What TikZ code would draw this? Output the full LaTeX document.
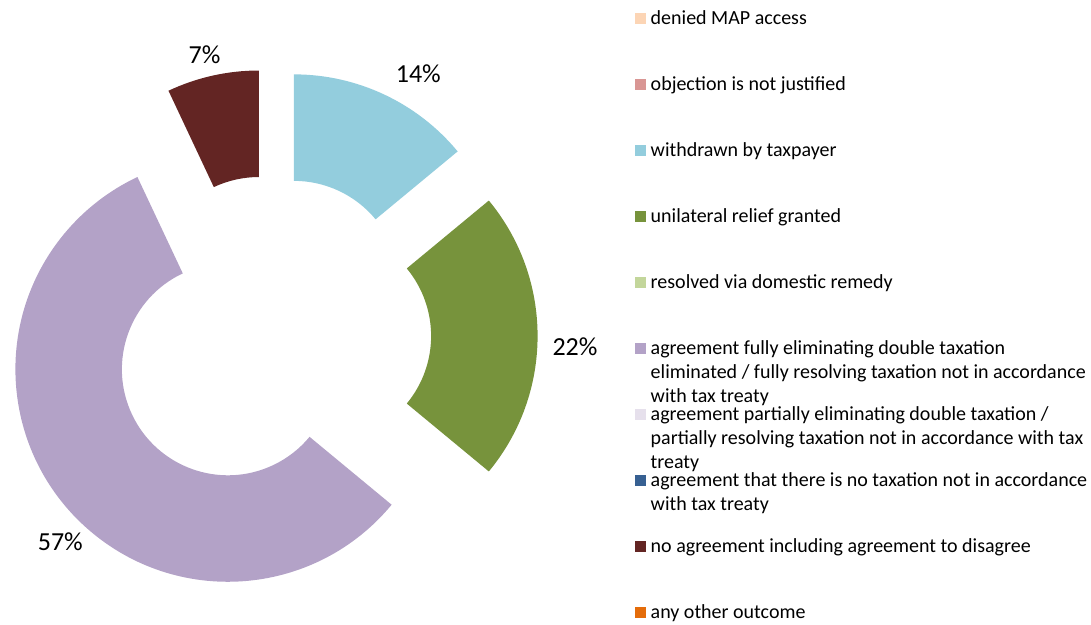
\documentclass[tikz,border=0pt]{standalone}
\usepackage{fontspec}
\setmainfont{Carlito}
\usetikzlibrary{calc}
\definecolor{cPeach}{HTML}{FCD5B5}
\definecolor{cPink}{HTML}{D99694}
\definecolor{cLBlue}{HTML}{93CDDD}
\definecolor{cGreen}{HTML}{77933C}
\definecolor{cLGreen}{HTML}{C3D69B}
\definecolor{cPurple}{HTML}{B3A2C7}
\definecolor{cLav}{HTML}{E6E0EC}
\definecolor{cNavy}{HTML}{376092}
\definecolor{cDRed}{HTML}{632523}
\definecolor{cOrange}{HTML}{E46C0A}
\newcommand\donutslice[4]{%
  \fill[#1] ($(c)+(#4:54.3)+(#2:212.5)$) arc[start angle=#2, end angle=#3, radius=212.5]
    -- ($(c)+(#4:54.3)+(#3:106)$) arc[start angle=#3, end angle=#2, radius=106] -- cycle;}
\begin{document}
\begin{tikzpicture}[x=1pt,y=1pt,
  legtext/.style={anchor=base west, inner sep=0pt, font=\fontsize{20}{24.4}\selectfont},
  pctlabel/.style={inner sep=0pt, font=\fontsize{26}{31}\selectfont},
  swatch/.style={minimum size=10.7pt, inner sep=0pt, draw=none}]
\useasboundingbox (0,0) rectangle (1091,624);
\coordinate (c) at (270.8,288);
% donut slices
\donutslice{cLBlue}{90}{39.6}{64.8}
\donutslice{cGreen}{39.6}{-39.6}{0}
\donutslice{cPurple}{-39.6}{-244.8}{-142.2}
\donutslice{cDRed}{115.2}{90}{102.6}
% percentage labels
\node[pctlabel] (p14) at (418.3,550.3) {14\%};
\node[pctlabel] (p22) at (575,277) {22\%};
\node[pctlabel] (p57) at (60.3,82) {57\%};
\node[pctlabel] (p7) at (204.5,569.3) {7\%};
% legend
\node[swatch, fill=cPeach] (s0) at (640.5,605.3) {};
\node[legtext] (t0) at (650.5,599.9) {denied MAP access};
\node[swatch, fill=cPink] (s1) at (640.5,539.3) {};
\node[legtext] (t1) at (650.5,533.9) {objection is not justified};
\node[swatch, fill=cLBlue] (s2) at (640.5,473.3) {};
\node[legtext] (t2) at (650.5,467.9) {withdrawn by taxpayer};
\node[swatch, fill=cGreen] (s3) at (640.5,407.3) {};
\node[legtext] (t3) at (650.5,401.9) {unilateral relief granted};
\node[swatch, fill=cLGreen] (s4) at (640.5,341.3) {};
\node[legtext] (t4) at (650.5,335.9) {resolved via domestic remedy};
\node[swatch, fill=cPurple] (s5) at (640.5,275.3) {};
\node[legtext] (t5a) at (650.5,269.9) {agreement fully eliminating double taxation};
\node[legtext] (t5b) at (650.5,245.5) {eliminated / fully resolving taxation not in accordance};
\node[legtext] (t5c) at (650.5,221.1) {with tax treaty};
\node[swatch, fill=cLav] (s6) at (640.5,209.3) {};
\node[legtext] (t6a) at (650.5,203.9) {agreement partially eliminating double taxation /};
\node[legtext] (t6b) at (650.5,179.5) {partially resolving taxation not in accordance with tax};
\node[legtext] (t6c) at (650.5,155.1) {treaty};
\node[swatch, fill=cNavy] (s7) at (640.5,143.3) {};
\node[legtext] (t7a) at (650.5,137.9) {agreement that there is no taxation not in accordance};
\node[legtext] (t7b) at (650.5,113.5) {with tax treaty};
\node[swatch, fill=cDRed] (s8) at (640.5,77.3) {};
\node[legtext] (t8) at (650.5,71.9) {no agreement including agreement to disagree};
\node[swatch, fill=cOrange] (s9) at (640.5,11.3) {};
\node[legtext] (t9) at (650.5,5.9) {any other outcome};
\end{tikzpicture}
\end{document}
